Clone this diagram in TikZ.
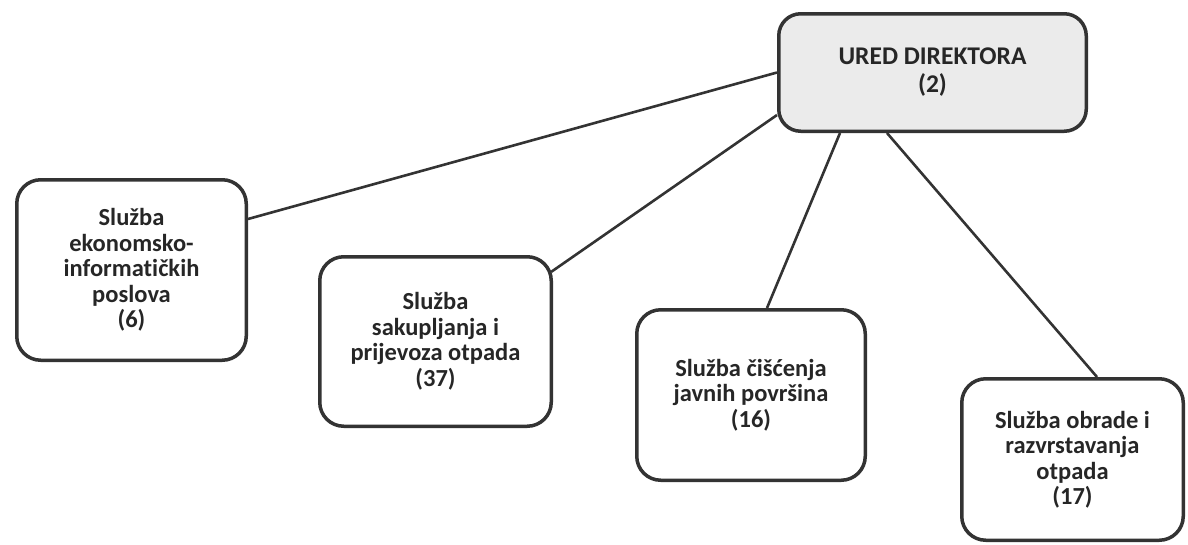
\documentclass[tikz,border=0pt]{standalone}
\usepackage{fontspec}
\setmainfont{Carlito}[Ligatures={NoCommon}]
\begin{document}
\begin{tikzpicture}[x=1pt,y=-1pt,
  unit/.style={draw=black!80, line width=3.5pt, rounded corners=24pt, align=center,
    font=\bfseries\fontsize{24.5}{25.5}\selectfont, text=black!85, inner sep=0pt},
  link/.style={draw=black!80, line width=2.6pt}]
\useasboundingbox (0,0) rectangle (1188,544);
\node[unit, fill=black!8, minimum width=307.5pt, minimum height=117.5pt, rounded corners=22pt,
  font=\bfseries\fontsize{25.5}{28}\selectfont] (top) at (932.5,72.5) {URED DIREKTORA\\(2)};
\node[unit, minimum width=229.5pt, minimum height=180.5pt] (b1) at (131.5,270)
  {Služba\\ekonomsko-\\informat\kern0pt ičkih\\poslova\\(6)};
\node[unit, minimum width=231.5pt, minimum height=169.5pt] (b2) at (435.5,341.5)
  {Služba\\sakupljanja i\\prijevoza otpada\\(37)};
\node[unit, minimum width=228.5pt, minimum height=170.5pt] (b3) at (751,395)
  {Služba čišćenja\\javnih površina\\(16)};
\node[unit, minimum width=221.5pt, minimum height=161.5pt] (b4) at (1072.5,459.5)
  {Služba obrade i\\razvrstavanja\\otpada\\(17)};
\draw[link] (top.west) -- ([yshift=51pt]b1.east);
\draw[link] ([yshift=-42.5pt]top.west) -- ([yshift=69.5pt,xshift=-2pt]b2.east);
\draw[link] ([xshift=-92.5pt]top.south) -- ([xshift=16pt]b3.north);
\draw[link] ([xshift=-45.5pt]top.south) -- ([xshift=24.5pt]b4.north);
\end{tikzpicture}
\end{document}
